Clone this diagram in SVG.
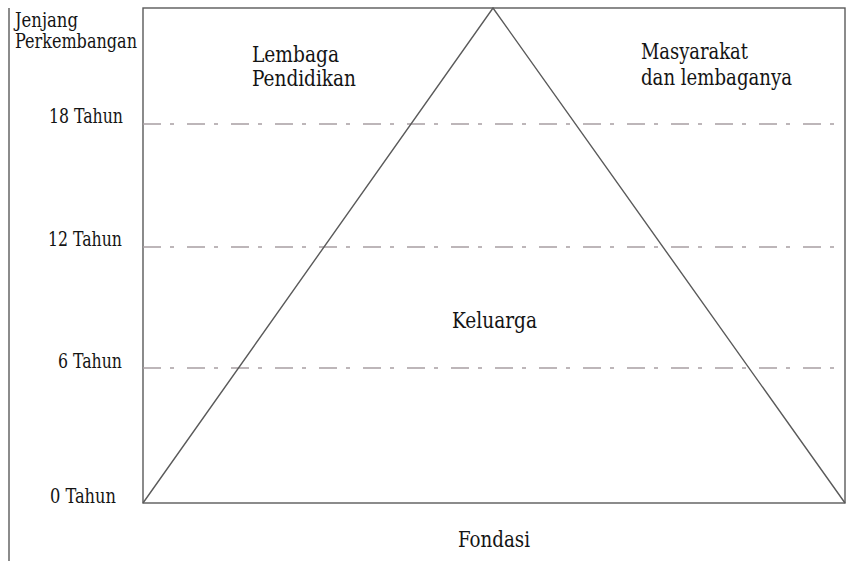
<svg xmlns="http://www.w3.org/2000/svg" width="863" height="561" viewBox="0 0 863 561">
<style>
text{font-family:'DejaVu Serif Condensed','DejaVu Serif',serif;font-stretch:condensed;fill:#141414}
.ax{font-size:19.5px}
.lb{font-size:22px}
.ln{stroke:#5a5a5a;stroke-width:1.4;fill:none}
.dash{stroke:#a89fa2;stroke-width:1.3;stroke-dasharray:18 9 4 13;fill:none}
</style>
<rect width="863" height="561" fill="#ffffff"/>
<g id="axis">
<line class="ln" x1="9" y1="8" x2="9" y2="561"/>
<text class="ax" x="15" y="27" textLength="63" lengthAdjust="spacingAndGlyphs">Jenjang</text>
<text class="ax" x="15" y="48" textLength="122" lengthAdjust="spacingAndGlyphs">Perkembangan</text>
<text class="ax" x="49" y="123" textLength="74" lengthAdjust="spacingAndGlyphs">18 Tahun</text>
<text class="ax" x="48" y="246" textLength="74" lengthAdjust="spacingAndGlyphs">12 Tahun</text>
<text class="ax" x="58" y="368" textLength="64" lengthAdjust="spacingAndGlyphs">6 Tahun</text>
<text class="ax" x="50" y="503" textLength="66" lengthAdjust="spacingAndGlyphs">0 Tahun</text>
</g>
<g id="frame">
<rect class="ln" x="143" y="8" width="702" height="495"/>
</g>
<g id="levels">
<line class="dash" x1="143" y1="124" x2="845" y2="124"/>
<line class="dash" x1="143" y1="247" x2="845" y2="247"/>
<line class="dash" x1="143" y1="368" x2="845" y2="368"/>
</g>
<g id="triangle">
<polyline class="ln" points="143,503 493,8 845,503"/>
</g>
<g id="lembaga">
<text class="lb" x="252" y="62" textLength="87" lengthAdjust="spacingAndGlyphs">Lembaga</text>
<text class="lb" x="252" y="86" textLength="104" lengthAdjust="spacingAndGlyphs">Pendidikan</text>
</g>
<g id="masyarakat">
<text class="lb" x="641" y="59" textLength="107" lengthAdjust="spacingAndGlyphs">Masyarakat</text>
<text class="lb" x="641" y="85" textLength="151" lengthAdjust="spacingAndGlyphs">dan lembaganya</text>
</g>
<g id="keluarga">
<text class="lb" x="452" y="328" textLength="85" lengthAdjust="spacingAndGlyphs">Keluarga</text>
</g>
<g id="fondasi">
<text class="lb" x="458" y="547" textLength="72" lengthAdjust="spacingAndGlyphs">Fondasi</text>
</g>
</svg>
